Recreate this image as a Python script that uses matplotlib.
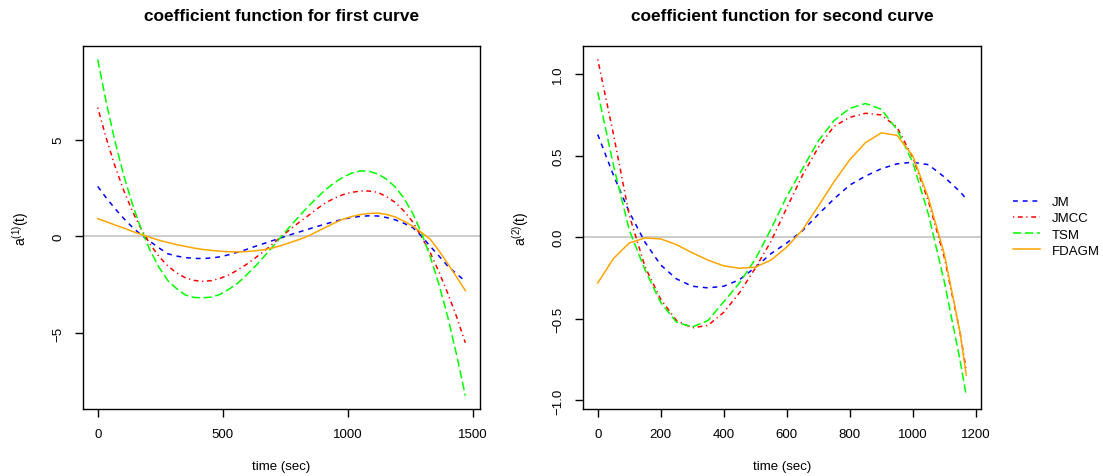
import matplotlib
matplotlib.use("Agg")
import matplotlib.pyplot as plt

plt.rcParams['font.family'] = ['Liberation Sans', 'DejaVu Sans']
plt.rcParams['mathtext.fontset'] = 'custom'
plt.rcParams['mathtext.rm'] = 'Liberation Sans'
plt.rcParams['mathtext.default'] = 'regular'
plt.rcParams['lines.scale_dashes'] = False

# methods, in legend order
methods = ['JM', 'JMCC', 'TSM', 'FDAGM']

# first curve: a^(1)(t)
t_first = [0, 35, 70, 105, 140, 175, 210, 245, 280, 315, 350, 385, 420, 455, 490,
           525, 560, 595, 630, 665, 700, 735, 770, 805, 840, 875, 910, 945, 980,
           1015, 1050, 1085, 1120, 1155, 1190, 1225, 1260, 1295, 1330, 1365, 1400,
           1435, 1470]
jm_first = [2.58, 1.97, 1.42, 0.91, 0.45, 0.06, -0.27, -0.60, -0.90, -1.02, -1.10, -1.14, -1.15, -1.12, -1.06,
            -0.95, -0.82, -0.68, -0.52, -0.37, -0.22, -0.07, 0.08, 0.22, 0.36, 0.50, 0.63, 0.76, 0.88,
            0.97, 1.03, 1.06, 1.05, 0.97, 0.85, 0.67, 0.45, 0.01, -0.52, -1.02, -1.54,
            -1.94, -2.32]
jmcc_first = [6.65, 5.03, 3.59, 2.34, 1.26, 0.35, -0.42, -1.04, -1.53, -1.89, -2.14, -2.28, -2.33, -2.29, -2.17,
              -1.99, -1.74, -1.45, -1.12, -0.77, -0.39, 0.00, 0.36, 0.72, 1.05, 1.40, 1.72, 1.96, 2.15,
              2.27, 2.34, 2.34, 2.27, 2.05, 1.75, 1.30, 0.74, -0.03, -0.85, -1.85, -2.95,
              -4.15, -5.50]
tsm_first = [9.14, 6.87, 4.86, 3.11, 1.61, 0.33, -0.74, -1.60, -2.28, -2.70, -3.03, -3.16, -3.18, -3.14, -3.00,
             -2.73, -2.42, -2.00, -1.55, -1.05, -0.54, 0.00, 0.52, 1.03, 1.52, 1.97, 2.40, 2.75, 3.05,
             3.26, 3.38, 3.36, 3.22, 2.95, 2.55, 1.96, 1.18, 0.16, -1.06, -2.50, -4.18,
             -6.11, -8.23]
fdagm_first = [0.91, 0.75, 0.58, 0.42, 0.25, 0.09, -0.06, -0.20, -0.32, -0.43, -0.52, -0.61, -0.68, -0.73, -0.77,
               -0.80, -0.81, -0.79, -0.75, -0.69, -0.60, -0.47, -0.32, -0.17, 0.00, 0.23, 0.45, 0.68, 0.88,
               1.02, 1.12, 1.18, 1.20, 1.13, 1.00, 0.78, 0.52, 0.20, -0.15, -0.75, -1.42,
               -2.10, -2.80]

# second curve: a^(2)(t)
t_second = [0, 50, 100, 150, 200, 250, 300, 350, 400, 450, 500, 550, 600,
            650, 700, 750, 800, 850, 900, 950, 1000, 1050, 1100, 1150, 1170]
jm_second = [0.63, 0.38, 0.155, -0.03, -0.17, -0.255, -0.30, -0.31, -0.30, -0.26, -0.185, -0.10, -0.035,
             0.04, 0.14, 0.235, 0.32, 0.375, 0.42, 0.45, 0.46, 0.445, 0.37, 0.28, 0.236]
jmcc_second = [1.09, 0.63, 0.135, -0.18, -0.38, -0.51, -0.555, -0.54, -0.46, -0.34, -0.19, -0.025, 0.18,
               0.38, 0.55, 0.68, 0.735, 0.76, 0.75, 0.675, 0.49, 0.22, -0.12, -0.58, -0.815]
tsm_second = [0.89, 0.44, 0.045, -0.20, -0.40, -0.52, -0.55, -0.51, -0.395, -0.28, -0.135, 0.05, 0.25,
              0.42, 0.59, 0.715, 0.79, 0.82, 0.785, 0.66, 0.46, 0.14, -0.27, -0.75, -0.97]
fdagm_second = [-0.28, -0.13, -0.035, -0.004, -0.01, -0.045, -0.095, -0.14, -0.175, -0.19, -0.183, -0.14, -0.06,
                0.045, 0.19, 0.34, 0.475, 0.58, 0.64, 0.625, 0.50, 0.24, -0.10, -0.58, -0.845]

colors = ['#0000FF', '#FF0000', '#00FF00', '#FFA500']
styles = [(0, (3.5, 3.5)), (0, (0.9, 2.6, 3.5, 2.6)), (0, (6.0, 2.6)), '-']

fig = plt.figure(figsize=(11.03, 4.77), dpi=100)
ax1 = fig.add_axes([83 / 1103, 67 / 477, 397 / 1103, 363 / 477])
ax2 = fig.add_axes([583 / 1103, 67 / 477, 398 / 1103, 363 / 477])


def draw(ax, t, curves, title, ylab, xticks, yticks, ylabels):
    ax.axhline(0, color='#BEBEBE', lw=1.1, zorder=1)
    for name, y, c, ls in zip(methods, curves, colors, styles):
        ax.plot(t, y, color=c, lw=1.1, linestyle=ls, label=name)
    ax.margins(0.04)
    ax.set_xticks(xticks)
    ax.set_yticks(yticks, labels=ylabels, rotation=90, va='center')
    ax.tick_params(direction='out', length=5.5, width=1, pad=8, labelsize=9.5)
    for s in ax.spines.values():
        s.set_linewidth(1.0)
    ax.set_title(title, fontsize=12.4, fontweight='bold', pad=19)
    ax.set_xlabel('time (sec)', fontsize=9.5)
    ax.set_ylabel(ylab, fontsize=10)
    ax.xaxis.set_label_coords(0.5, -0.14)
    ax.yaxis.set_label_coords(-0.13, 0.5)


draw(ax1, t_first, [jm_first, jmcc_first, tsm_first, fdagm_first],
     'coefficient function for first curve', r'a$^{(1)}$(t)',
     [0, 500, 1000, 1500], [-5, 0, 5], ['\u22125', '0', '5'])
draw(ax2, t_second, [jm_second, jmcc_second, tsm_second, fdagm_second],
     'coefficient function for second curve', r'a$^{(2)}$(t)',
     [0, 200, 400, 600, 800, 1000, 1200], [-1.0, -0.5, 0.0, 0.5, 1.0],
     ['\u22121.0', '\u22120.5', '0.0', '0.5', '1.0'])

h, l = ax2.get_legend_handles_labels()
fig.legend(h, l, loc='upper left', bbox_to_anchor=(1013 / 1103, 1 - 197 / 477),
           frameon=False, borderpad=0, borderaxespad=0, fontsize=9.5,
           handlelength=2.05, handletextpad=0.9, labelspacing=0.3)

fig.savefig('out.png', dpi=100)
